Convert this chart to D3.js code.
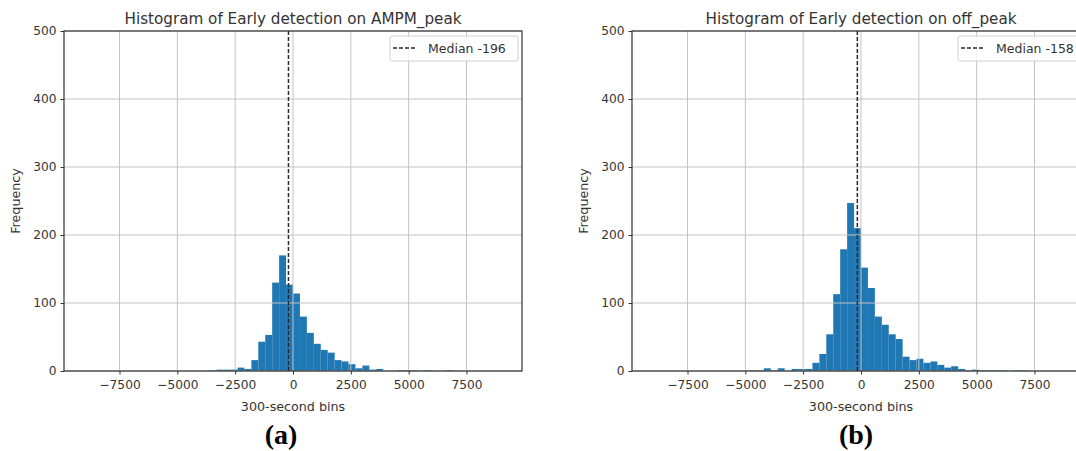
<!DOCTYPE html>
<html><head><meta charset="utf-8">
<script src="https://cdn.jsdelivr.net/npm/d3@7"></script>
<style>body{margin:0;background:#fff;} svg{display:block;font-family:"DejaVu Sans",sans-serif;}</style>
</head><body><svg id="c" width="1076" height="451"></svg>
<script>
// ---- data ----
const binWidth = 300;
const xTicks = [-7500, -5000, -2500, 0, 2500, 5000, 7500];
const yTicks = [0, 100, 200, 300, 400, 500];

const ampmBinStarts = [-3600,-3300,-3000,-2700,-2400,-2100,-1800,-1500,-1200,-900,-600,-300,0,300,600,900,1200,1500,1800,2100,2400,2700,3000,3300,3600,3900,4200,4500,4800,5100,5400,5700,6000,6300,6600];
const ampmCounts    = [1,2,2,2,5,3,16,43,53,130,170,127,114,80,56,40,31,27,16,14,10,4,8,2,3,0,0,1,1,1,0,1,0,0,1];
const ampmMedian = -196;

const offBinStarts = [-4800,-4500,-4200,-3900,-3600,-3300,-3000,-2700,-2400,-2100,-1800,-1500,-1200,-900,-600,-300,0,300,600,900,1200,1500,1800,2100,2400,2700,3000,3300,3600,3900,4200,4500,4800,5100,5400,5700,6000,6300,6600,6900];
const offCounts    = [1,1,4,1,4,0,3,3,3,12,25,54,113,179,247,210,152,122,80,68,54,47,21,16,18,12,14,9,5,7,3,1,2,1,1,1,1,0,1,1];
const offMedian = -158;

const panels = [
  {title:"Histogram of Early detection on AMPM_peak", starts:ampmBinStarts, counts:ampmCounts, median:ampmMedian, label:"(a)", left:64, labelX:281},
  {title:"Histogram of Early detection on off_peak", starts:offBinStarts, counts:offCounts, median:offMedian, label:"(b)", left:632, labelX:856}
];

const svg = d3.select("#c");
const W = 458, plotTop = 31, plotBottom = 371;
const fmt = v => (v < 0 ? "\u2212" + Math.abs(v) : String(v));

panels.forEach(p => {
  const x = d3.scaleLinear().domain([-9900, 9900]).range([p.left, p.left + W]);
  const y = d3.scaleLinear().domain([0, 500]).range([plotBottom, plotTop]);
  const g = svg.append("g");
  const data = p.starts.map((s, i) => ({s, c: p.counts[i]}));

  // bars
  g.selectAll("rect.bar").data(data).enter().append("rect")
    .attr("x", d => x(d.s)).attr("width", d => x(d.s + binWidth) - x(d.s))
    .attr("y", d => y(d.c)).attr("height", d => y(0) - y(d.c))
    .attr("fill", "#1f77b4");

  // grid
  g.selectAll("line.gx").data(xTicks).enter().append("line")
    .attr("x1", d => x(d)).attr("x2", d => x(d)).attr("y1", plotTop).attr("y2", plotBottom)
    .attr("stroke", "#c4c4c4").attr("stroke-width", 1);
  g.selectAll("line.gy").data(yTicks).enter().append("line")
    .attr("x1", p.left).attr("x2", p.left + W).attr("y1", d => y(d)).attr("y2", d => y(d))
    .attr("stroke", "#c4c4c4").attr("stroke-width", 1);

  // median
  g.append("line").attr("x1", x(p.median)).attr("x2", x(p.median))
    .attr("y1", plotTop).attr("y2", plotBottom)
    .attr("stroke", "#2a2a2a").attr("stroke-width", 1.5).attr("stroke-dasharray", "4,2");

  // axes
  const xa = g.append("g").attr("transform", `translate(0,${plotBottom})`)
    .call(d3.axisBottom(x).tickValues(xTicks).tickFormat(fmt).tickSize(3.5).tickPadding(5.5));
  const ya = g.append("g").attr("transform", `translate(${p.left},0)`)
    .call(d3.axisLeft(y).tickValues(yTicks).tickFormat(d3.format("d")).tickSize(3.5).tickPadding(4));
  [xa, ya].forEach(a => {
    a.select(".domain").remove();
    a.selectAll("text").attr("font-size", "12.2px").attr("fill", "#333").attr("font-family", "DejaVu Sans");
    a.selectAll("line").attr("stroke", "#333");
  });
  // frame
  g.append("rect").attr("x", p.left).attr("y", plotTop).attr("width", W).attr("height", plotBottom - plotTop)
    .attr("fill", "none").attr("stroke", "#333").attr("stroke-width", 1.2);

  // legend
  const lx = p.left + W - 132, ly = 36;
  g.append("rect").attr("x", lx).attr("y", ly).attr("width", 128).attr("height", 25).attr("rx", 2)
    .attr("fill", "#fff").attr("fill-opacity", 0.85).attr("stroke", "#d0d0d0");
  g.append("line").attr("x1", lx + 3).attr("x2", lx + 27).attr("y1", ly + 12).attr("y2", ly + 12)
    .attr("stroke", "#2a2a2a").attr("stroke-width", 1.5).attr("stroke-dasharray", "4,2");
  g.append("text").attr("x", lx + 38).attr("y", ly + 17).attr("font-size", "12.5px").attr("fill", "#333")
    .text("Median " + p.median);

  // titles
  const cx = p.left + W / 2;
  g.append("text").attr("x", cx).attr("y", 23.5).attr("text-anchor", "middle")
    .attr("font-size", "15.2px").attr("fill", "#333").text(p.title);
  g.append("text").attr("x", cx).attr("y", 411).attr("text-anchor", "middle")
    .attr("font-size", "12.7px").attr("fill", "#333").text("300-second bins");
  g.append("text").attr("transform", `translate(${p.left - 44},${(plotTop + plotBottom) / 2}) rotate(-90)`)
    .attr("text-anchor", "middle").attr("font-size", "12.7px").attr("fill", "#333").text("Frequency");
  g.append("text").attr("x", p.labelX).attr("y", 444).attr("text-anchor", "middle")
    .attr("font-family", "Liberation Serif, Times New Roman, serif").attr("font-weight", "bold")
    .attr("font-size", "28px").attr("fill", "#000").text(p.label);
});
</script></body></html>
